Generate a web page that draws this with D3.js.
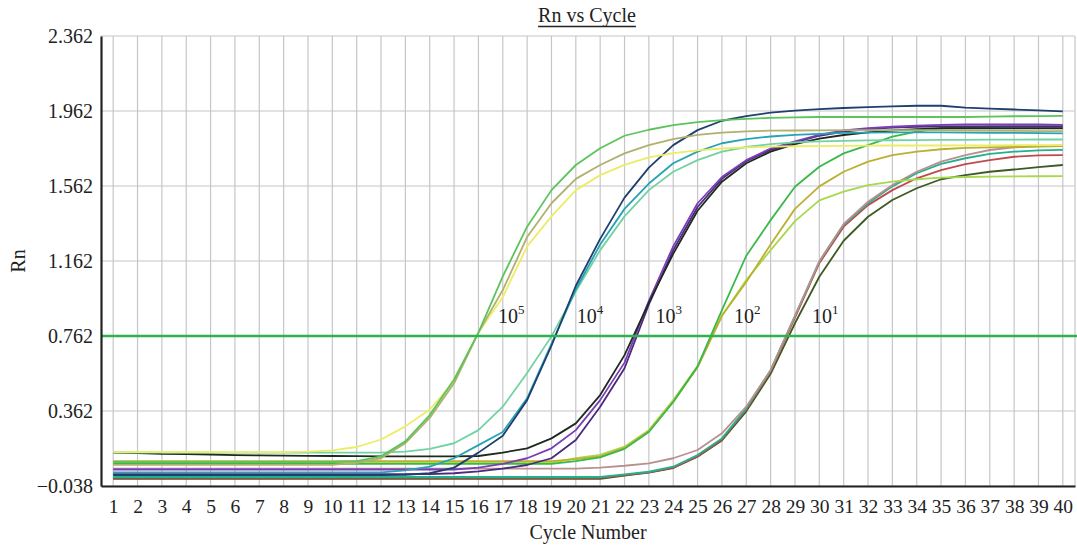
<!DOCTYPE html>
<html><head><meta charset="utf-8">
<script src="https://cdn.jsdelivr.net/npm/d3@7"></script>
<style>
body{margin:0;background:#fff}
svg{display:block}
text{font-family:"Liberation Serif","DejaVu Serif",serif;fill:#222}
</style>
</head><body><svg id="c" width="1077" height="549"></svg>
<script>
// ---------- DATA ----------
const cycles = [1,2,3,4,5,6,7,8,9,10,11,12,13,14,15,16,17,18,19,20,21,22,23,24,25,26,27,28,29,30,31,32,33,34,35,36,37,38,39,40];
const yTicks = [-0.038,0.362,0.762,1.162,1.562,1.962,2.362];
const threshold = 0.762;

// 10^5
const y5_yellow = [0.143,0.143,0.143,0.143,0.143,0.143,0.143,0.143,0.145,0.152,0.170,0.210,0.280,0.370,0.520,0.780,0.970,1.240,1.400,1.540,1.620,1.675,1.715,1.737,1.752,1.762,1.768,1.772,1.774,1.775,1.776,1.777,1.778,1.778,1.778,1.779,1.779,1.780,1.780,1.780];
const y5_olive  = [0.075,0.075,0.075,0.075,0.075,0.075,0.075,0.075,0.075,0.075,0.085,0.110,0.190,0.325,0.510,0.780,1.007,1.290,1.470,1.600,1.674,1.736,1.780,1.812,1.835,1.847,1.853,1.857,1.858,1.859,1.860,1.860,1.860,1.860,1.860,1.858,1.857,1.856,1.855,1.855];
const y5_green  = [0.090,0.090,0.090,0.090,0.090,0.090,0.090,0.090,0.090,0.090,0.095,0.120,0.200,0.340,0.530,0.780,1.080,1.345,1.540,1.674,1.763,1.830,1.862,1.887,1.903,1.913,1.920,1.925,1.928,1.930,1.930,1.930,1.930,1.930,1.930,1.930,1.932,1.934,1.935,1.936];
// 10^4
const y4_navy = [0.020,0.020,0.020,0.020,0.020,0.020,0.020,0.020,0.020,0.020,0.020,0.020,0.022,0.030,0.060,0.140,0.230,0.420,0.710,1.030,1.280,1.500,1.660,1.780,1.860,1.910,1.935,1.953,1.964,1.972,1.978,1.983,1.987,1.990,1.990,1.980,1.975,1.970,1.965,1.960];
const y4_teal = [0.035,0.035,0.035,0.035,0.035,0.035,0.035,0.035,0.035,0.035,0.035,0.035,0.045,0.065,0.110,0.180,0.250,0.430,0.720,1.010,1.250,1.440,1.575,1.683,1.745,1.790,1.812,1.826,1.835,1.840,1.845,1.847,1.848,1.848,1.848,1.847,1.846,1.845,1.844,1.843];
const y4_mint = [0.140,0.140,0.140,0.140,0.140,0.140,0.140,0.140,0.140,0.140,0.140,0.140,0.145,0.160,0.190,0.260,0.385,0.565,0.760,1.000,1.220,1.400,1.540,1.638,1.700,1.745,1.770,1.785,1.795,1.800,1.803,1.805,1.806,1.807,1.808,1.808,1.809,1.809,1.810,1.810];
// 10^3
const y3_black  = [0.140,0.138,0.133,0.132,0.130,0.127,0.125,0.124,0.123,0.122,0.121,0.120,0.120,0.120,0.120,0.122,0.140,0.163,0.216,0.296,0.447,0.660,0.940,1.200,1.430,1.585,1.683,1.745,1.785,1.815,1.834,1.848,1.858,1.865,1.870,1.870,1.870,1.870,1.870,1.870];
const y3_purple = [0.050,0.050,0.050,0.050,0.050,0.050,0.050,0.050,0.050,0.050,0.050,0.050,0.050,0.050,0.050,0.060,0.080,0.110,0.163,0.260,0.420,0.620,0.950,1.240,1.470,1.610,1.700,1.762,1.800,1.835,1.858,1.870,1.878,1.884,1.888,1.890,1.890,1.890,1.890,1.888];
const y3_indigo = [0.025,0.025,0.025,0.025,0.025,0.025,0.025,0.025,0.025,0.025,0.025,0.025,0.025,0.025,0.030,0.040,0.055,0.074,0.110,0.207,0.385,0.590,0.930,1.220,1.450,1.600,1.695,1.755,1.795,1.830,1.852,1.865,1.873,1.878,1.880,1.880,1.880,1.880,1.880,1.880];
// 10^2
const y2_green      = [0.080,0.080,0.080,0.080,0.080,0.080,0.080,0.080,0.080,0.080,0.080,0.080,0.080,0.080,0.080,0.080,0.080,0.080,0.080,0.095,0.115,0.160,0.250,0.410,0.600,0.900,1.190,1.380,1.558,1.665,1.736,1.780,1.825,1.852,1.870,1.875,1.878,1.880,1.880,1.880];
const y2_darkyellow = [0.095,0.095,0.095,0.095,0.095,0.095,0.095,0.095,0.095,0.095,0.095,0.095,0.095,0.095,0.095,0.095,0.095,0.095,0.095,0.105,0.120,0.165,0.255,0.410,0.595,0.870,1.050,1.250,1.440,1.560,1.638,1.692,1.727,1.745,1.758,1.765,1.768,1.770,1.772,1.775];
const y2_lightgreen = [0.085,0.085,0.085,0.085,0.085,0.085,0.085,0.085,0.085,0.085,0.085,0.085,0.085,0.085,0.085,0.085,0.085,0.085,0.085,0.110,0.128,0.172,0.260,0.420,0.600,0.870,1.060,1.220,1.375,1.485,1.532,1.567,1.585,1.598,1.607,1.610,1.612,1.613,1.614,1.615];
// 10^1
const y1_mauve = [0.055,0.055,0.055,0.055,0.055,0.055,0.055,0.055,0.055,0.055,0.055,0.055,0.055,0.055,0.055,0.055,0.055,0.055,0.055,0.055,0.060,0.070,0.083,0.110,0.154,0.243,0.385,0.580,0.870,1.160,1.360,1.478,1.567,1.638,1.692,1.727,1.754,1.768,1.775,1.778];
const y1_teal  = [0.010,0.010,0.010,0.010,0.010,0.010,0.010,0.010,0.010,0.010,0.010,0.010,0.010,0.010,0.010,0.010,0.010,0.010,0.010,0.010,0.010,0.024,0.038,0.065,0.127,0.216,0.376,0.580,0.870,1.160,1.355,1.470,1.560,1.630,1.680,1.710,1.733,1.745,1.752,1.755];
const y1_red   = [0.005,0.005,0.005,0.005,0.005,0.005,0.005,0.005,0.005,0.005,0.005,0.005,0.005,0.005,0.005,0.005,0.005,0.005,0.005,0.005,0.005,0.020,0.035,0.060,0.120,0.210,0.370,0.575,0.860,1.150,1.345,1.460,1.540,1.603,1.647,1.679,1.700,1.718,1.725,1.727];
const y1_olive = [0.000,0.000,0.000,0.000,0.000,0.000,0.000,0.000,0.000,0.000,0.000,0.000,0.000,0.000,0.000,0.000,0.000,0.000,0.000,0.000,0.000,0.018,0.033,0.058,0.118,0.205,0.360,0.560,0.830,1.078,1.270,1.398,1.487,1.550,1.598,1.620,1.638,1.650,1.663,1.674];

const seriesData   = [y1_olive, y1_red, y1_teal, y1_mauve, y2_lightgreen, y2_darkyellow, y2_green, y3_indigo, y3_purple, y3_black, y4_mint, y4_teal, y4_navy, y5_yellow, y5_olive, y5_green];
const seriesColors = ["#3d5a22","#c04a4a","#22b08e","#b89090","#a8d84c","#bcb030","#3cb84a","#4a2a7a","#7a3db8","#1e2a1e","#72d3a2","#27a3b5","#1f3f6e","#ecec66","#b0b070","#5cc45a"];

const labelExps   = ["5","4","3","2","1"];
const labelCycles = [16.8,20.04,23.27,26.5,29.7];
const labelValue  = 0.831;

// ---------- CHART ----------
const svg = d3.select("#c");
const x = d3.scaleLinear().domain([0.5,40.5]).range([101,1075]);
const y = d3.scaleLinear().domain([-0.038,2.362]).range([486,36]);

const grid = svg.append("g").attr("stroke","#c6c6ca").attr("stroke-width",1.2);
grid.selectAll("line.v").data(cycles).join("line").attr("class","v")
  .attr("x1",d=>x(d)).attr("x2",d=>x(d)).attr("y1",y(2.362)).attr("y2",y(-0.038));
grid.selectAll("line.h").data(yTicks).join("line").attr("class","h")
  .attr("x1",x(0.5)).attr("x2",x(40.5)).attr("y1",d=>y(d)).attr("y2",d=>y(d));
grid.append("line").attr("x1",x(40.5)).attr("x2",x(40.5)).attr("y1",y(2.362)).attr("y2",y(-0.038));

const line = d3.line().x((d,i)=>x(cycles[i])).y(d=>y(d));
svg.append("g").selectAll("path").data(seriesData).join("path")
  .attr("d",line).attr("fill","none")
  .attr("stroke",(d,i)=>seriesColors[i]).attr("stroke-width",1.8)
  .attr("stroke-linejoin","round");

svg.append("line").attr("x1",x(0.5)).attr("x2",1077)
  .attr("y1",y(threshold)).attr("y2",y(threshold))
  .attr("stroke","#2fb24c").attr("stroke-width",2.5);

const fmt = d3.format(".3f");
const ya = svg.append("g").attr("transform",`translate(${x(0.5)},0)`)
  .call(d3.axisLeft(y).tickValues(yTicks).tickSize(0).tickSizeOuter(0).tickPadding(8).tickFormat(d=>fmt(d)));
ya.select(".domain").attr("stroke","#222").attr("stroke-width",2.2);
ya.selectAll("text").attr("font-size",20).attr("font-family","Liberation Serif").attr("fill","#222");

const xa = svg.append("g").attr("transform",`translate(0,${y(-0.038)})`)
  .call(d3.axisBottom(x).tickValues(cycles).tickSize(0).tickSizeOuter(0).tickPadding(13));
xa.select(".domain").attr("stroke","#222").attr("stroke-width",2.2);
xa.selectAll("text").attr("font-size",19.5).attr("font-family","Liberation Serif").attr("fill","#222");

// title
const t = svg.append("text").attr("x",587).attr("y",22).attr("text-anchor","middle")
  .attr("font-size",20).text("Rn vs Cycle");
const tw = t.node().getComputedTextLength();
svg.append("line").attr("x1",587-tw/2).attr("x2",587+tw/2).attr("y1",26.5).attr("y2",26.5)
  .attr("stroke","#222").attr("stroke-width",1.3);

svg.append("text").attr("transform","translate(25,261) rotate(-90)").attr("text-anchor","middle")
  .attr("font-size",20).text("Rn");
svg.append("text").attr("x",588).attr("y",539).attr("text-anchor","middle")
  .attr("font-size",20).text("Cycle Number");

// concentration labels
const lab = svg.append("g").selectAll("text").data(labelExps).join("text")
  .attr("x",(d,i)=>x(labelCycles[i])).attr("y",y(labelValue)).attr("font-size",20);
lab.append("tspan").text("10");
lab.append("tspan").attr("dy",-9).attr("font-size",13).text(d=>d);
</script>
</body></html>
